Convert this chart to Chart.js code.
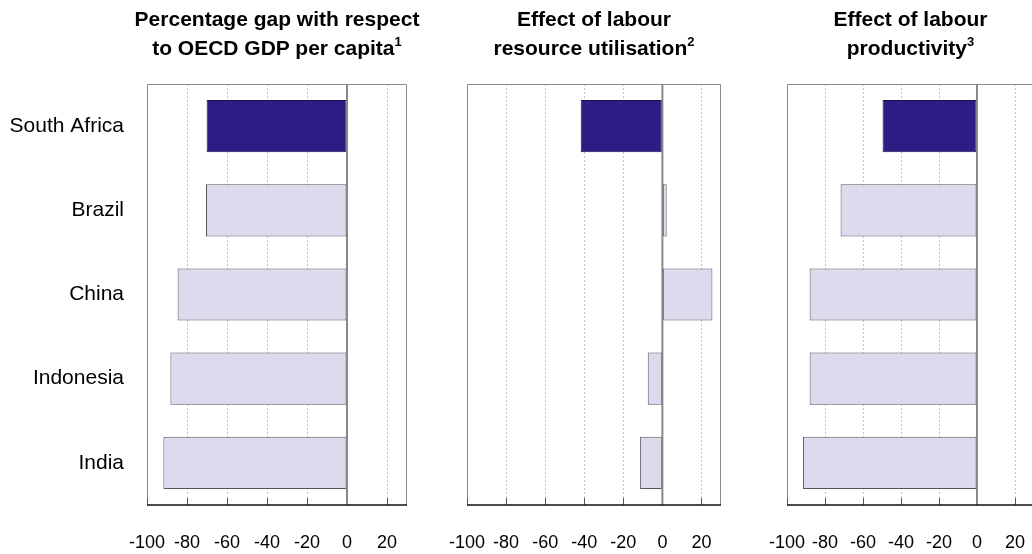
<!DOCTYPE html>
<html>
<head>
<meta charset="utf-8">
<script src="https://cdn.jsdelivr.net/npm/chart.js@4.4.0/dist/chart.umd.min.js"></script>
<style>
  html, body { margin: 0; padding: 0; background: #fff; width: 1032px; height: 554px; overflow: hidden; }
  .panel { position: absolute; top: 0; height: 554px; }
  .title {
    position: absolute; top: 4px;
    font: bold 21px "Liberation Sans", Arial, Helvetica, sans-serif;
    line-height: 29px; text-align: center; color: #000; white-space: nowrap;
  }
  .title sup { font-size: 13px; line-height: 0; position: relative; top: -1px; }
</style>
</head>
<body>
<div class="panel" id="p1" style="left:0;width:430px"><canvas id="c1" width="430" height="554"></canvas></div>
<div class="panel" id="p2" style="left:440px;width:300px"><canvas id="c2" width="300" height="554"></canvas></div>
<div class="panel" id="p3" style="left:760px;width:300px"><canvas id="c3" width="300" height="554"></canvas></div>

<div class="title" id="t1">Percentage gap with respect<br>to OECD GDP per capita<sup>1</sup></div>
<div class="title" id="t2">Effect of labour<br>resource utilisation<sup>2</sup></div>
<div class="title" id="t3">Effect of labour<br>productivity<sup>3</sup></div>

<script>
// data
const countries = ["South Africa", "Brazil", "China", "Indonesia", "India"];
const gdpGap = [-70.2, -70.5, -84.7, -88.3, -91.8];
const utilisation = [-41.8, 2.2, 25.6, -7.5, -11.4];
const productivity = [-49.7, -71.8, -88.1, -88.1, -91.6];
const xTicks = [-100, -80, -60, -40, -20, 0, 20];
const xMin = -100;
const xMax = 30;

const FONT = '"Liberation Sans", Arial, Helvetica, sans-serif';
const highlight = "South Africa";

// frame, zero line and the small inside tick marks
const framePlugin = {
  id: "frame",
  afterDatasetsDraw(chart) {
    const ctx = chart.ctx;
    const a = chart.chartArea;
    const x = chart.scales.x;
    ctx.save();
    ctx.lineWidth = 1;
    ctx.strokeStyle = "#8a8a8a";
    ctx.beginPath();
    ctx.moveTo(a.left + 0.5, a.bottom);
    ctx.lineTo(a.left + 0.5, a.top + 0.5);
    ctx.lineTo(a.right - 0.5, a.top + 0.5);
    ctx.lineTo(a.right - 0.5, a.bottom);
    ctx.stroke();

    ctx.strokeStyle = "#555";
    xTicks.forEach(v => {
      let px = Math.round(x.getPixelForValue(v)) + 0.5;
      ctx.beginPath();
      ctx.moveTo(px, a.bottom);
      ctx.lineTo(px, a.bottom - 7);
      ctx.stroke();
    });

    let z = x.getPixelForValue(0);
    ctx.strokeStyle = "#888";
    ctx.lineWidth = 2;
    ctx.beginPath();
    ctx.moveTo(z, a.top);
    ctx.lineTo(z, a.bottom);
    ctx.stroke();

    ctx.strokeStyle = "#111";
    ctx.lineWidth = 1.5;
    ctx.beginPath();
    ctx.moveTo(a.left, a.bottom);
    ctx.lineTo(a.right, a.bottom);
    ctx.stroke();
    ctx.restore();
  }
};

function makePanel(canvasId, values, showLabels, padLeft, padRight) {
  const ctx = document.getElementById(canvasId).getContext("2d");
  return new Chart(ctx, {
    type: "bar",
    data: {
      labels: countries,
      datasets: [{
        data: values,
        backgroundColor: countries.map(c => c === highlight ? "#2c1d84" : "#dcdaec"),
        borderColor: countries.map(c => c === highlight ? "#1a1050" : "#55555f"),
        borderWidth: 1,
        borderSkipped: false,
        categoryPercentage: 1,
        barPercentage: 0.62
      }]
    },
    options: {
      indexAxis: "y",
      responsive: false,
      animation: false,
      layout: { padding: { top: 84, bottom: 0, left: padLeft, right: padRight } },
      plugins: { legend: { display: false }, tooltip: { enabled: false } },
      scales: {
        x: {
          min: xMin,
          max: xMax,
          afterBuildTicks: scale => { scale.ticks = xTicks.map(v => ({ value: v })); },
          afterFit: scale => {
            scale.height = 49;
            scale.paddingLeft = 0;
            scale.paddingRight = 0;
          },
          grid: {
            drawTicks: false,
            lineWidth: 1,
            color: c => (c.tick && (c.tick.value === -100 || c.tick.value === 0)) ? "rgba(0,0,0,0)" : "#c4c4c4"
          },
          border: { display: false, dash: [2, 2] },
          ticks: {
            padding: 27,
            color: "#000",
            maxRotation: 0,
            autoSkip: false,
            font: { family: FONT, size: 18 }
          }
        },
        y: {
          display: showLabels,
          offset: true,
          afterFit: scale => { if (showLabels) scale.width = 147; },
          grid: { display: false, drawTicks: false },
          border: { display: false },
          ticks: {
            padding: 23,
            color: "#000",
            font: { family: FONT, size: 21 }
          }
        }
      }
    },
    plugins: [framePlugin]
  });
}

const charts = [
  ["p1", "t1", makePanel("c1", gdpGap, true, 0, 23)],
  ["p2", "t2", makePanel("c2", utilisation, false, 27, 19)],
  ["p3", "t3", makePanel("c3", productivity, false, 27, 26)]
];

// centre each title over its plot area
charts.forEach(([pid, tid, chart]) => {
  const offset = document.getElementById(pid).offsetLeft;
  const a = chart.chartArea;
  const t = document.getElementById(tid);
  const w = 340;
  t.style.width = w + "px";
  t.style.left = (offset + (a.left + a.right) / 2 - w / 2) + "px";
});
</script>
</body>
</html>
